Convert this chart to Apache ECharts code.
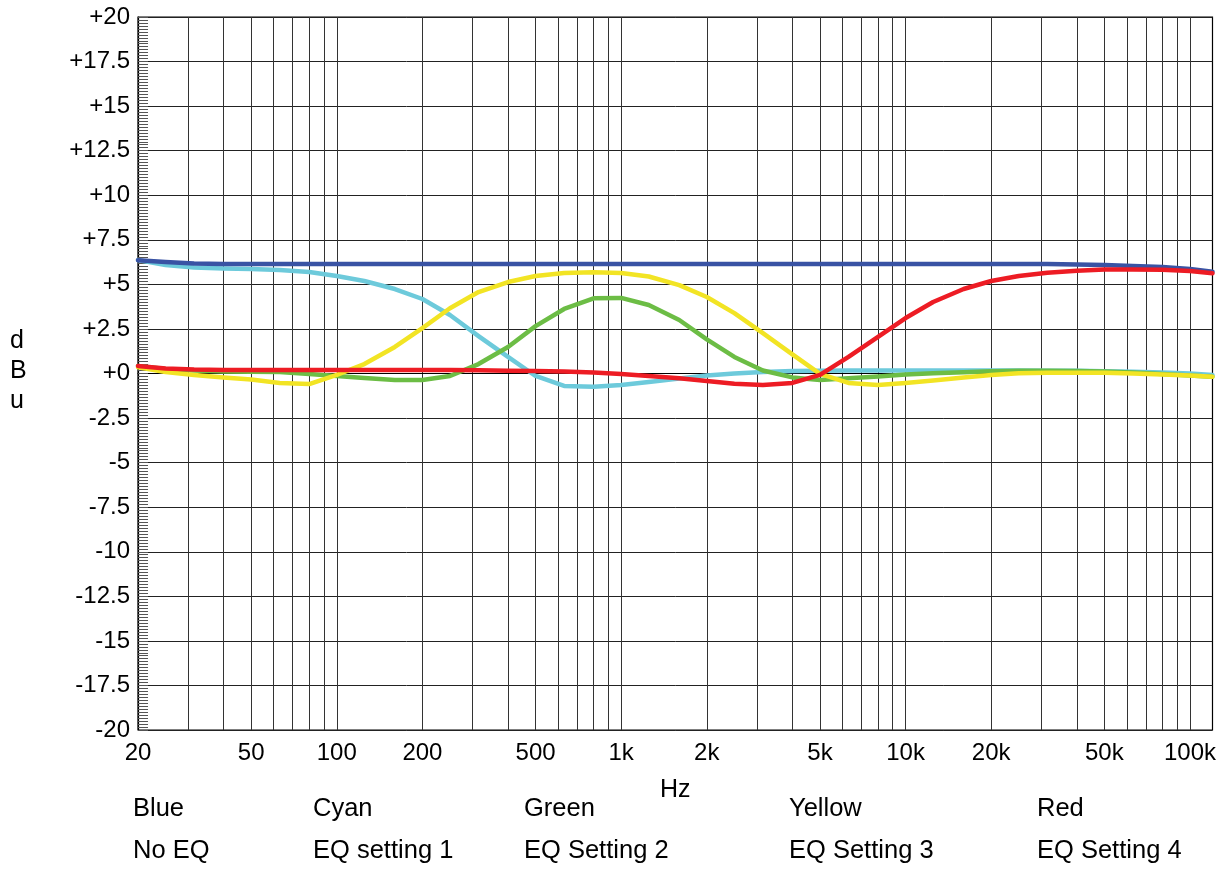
<!DOCTYPE html>
<html>
<head>
<meta charset="utf-8">
<script src="https://cdn.jsdelivr.net/npm/echarts@6/dist/echarts.min.js"></script>
<style>html,body{margin:0;padding:0;background:#fff}#c{width:1219px;height:869px}</style>
</head>
<body>
<div id="c"></div>
<script>
// Frequencies (Hz) of the sample points
const freqs = [20, 25, 31.5, 40, 50, 63, 80, 100, 125, 160, 200, 250, 315, 400, 500, 630, 800, 1000, 1250, 1600, 2000, 2500, 3150, 4000, 5000, 6300, 8000, 10000, 12500, 16000, 20000, 25000, 31500, 40000, 50000, 63000, 80000, 100000, 120000];

// dBu levels per EQ setting
const blueNoEQ = [6.36, 6.25, 6.17, 6.14, 6.14, 6.14, 6.14, 6.14, 6.14, 6.14, 6.14, 6.14, 6.14, 6.14, 6.14, 6.14, 6.14, 6.14, 6.14, 6.14, 6.14, 6.14, 6.14, 6.14, 6.14, 6.14, 6.14, 6.14, 6.14, 6.14, 6.14, 6.14, 6.14, 6.12, 6.09, 6.03, 5.97, 5.86, 5.71];
const cyanEQ1 = [6.36, 6.09, 5.95, 5.89, 5.86, 5.80, 5.69, 5.47, 5.19, 4.74, 4.18, 3.28, 2.10, 0.93, -0.14, -0.70, -0.74, -0.64, -0.48, -0.28, -0.11, 0.0, 0.08, 0.14, 0.16, 0.17, 0.17, 0.17, 0.17, 0.17, 0.17, 0.17, 0.16, 0.15, 0.13, 0.10, 0.05, 0.0, -0.08];
const greenEQ2 = [0.42, 0.25, 0.17, 0.11, 0.10, 0.08, -0.03, -0.14, -0.25, -0.36, -0.36, -0.14, 0.53, 1.49, 2.66, 3.62, 4.22, 4.24, 3.84, 3.00, 1.91, 0.93, 0.17, -0.22, -0.36, -0.27, -0.17, -0.06, 0.01, 0.07, 0.12, 0.15, 0.16, 0.14, 0.11, 0.06, -0.03, -0.11, -0.18];
const yellowEQ3 = [0.35, 0.08, -0.08, -0.22, -0.34, -0.53, -0.59, -0.08, 0.53, 1.49, 2.55, 3.66, 4.57, 5.13, 5.47, 5.64, 5.68, 5.64, 5.44, 4.96, 4.29, 3.39, 2.27, 1.07, -0.02, -0.53, -0.65, -0.53, -0.39, -0.22, -0.08, 0.01, 0.04, 0.04, 0.04, 0.0, -0.06, -0.11, -0.18];
const redEQ4 = [0.42, 0.28, 0.22, 0.20, 0.20, 0.20, 0.20, 0.20, 0.20, 0.20, 0.20, 0.19, 0.18, 0.16, 0.14, 0.11, 0.06, -0.03, -0.14, -0.27, -0.42, -0.58, -0.65, -0.53, -0.08, 0.93, 2.05, 3.11, 4.01, 4.74, 5.19, 5.47, 5.65, 5.77, 5.83, 5.84, 5.82, 5.75, 5.62];

// Axis ticks
const xGridFreqs = [20, 30, 40, 50, 60, 70, 80, 90, 100, 200, 300, 400, 500, 600, 700, 800, 900, 1000, 2000, 3000, 4000, 5000, 6000, 7000, 8000, 9000, 10000, 20000, 30000, 40000, 50000, 60000, 70000, 80000, 90000, 100000];
const xLabelFreqs = [20, 50, 100, 200, 500, 1000, 2000, 5000, 10000, 20000, 50000, 100000];

// Legend text
const legendColours = ['Blue', 'Cyan', 'Green', 'Yellow', 'Red'];
const legendNames = ['No EQ', 'EQ setting 1', 'EQ Setting 2', 'EQ Setting 3', 'EQ Setting 4'];

const FONT = '"Liberation Sans", Arial, Helvetica, sans-serif';
const pairs = vals => freqs.map((f, i) => [f, vals[i]]);

const seriesDefs = [
  { name: legendNames[1], data: cyanEQ1, color: '#6dcadb' },
  { name: legendNames[0], data: blueNoEQ, color: '#3953a4' },
  { name: legendNames[2], data: greenEQ2, color: '#6cbd45' },
  { name: legendNames[3], data: yellowEQ3, color: '#f2e424' },
  { name: legendNames[4], data: redEQ4, color: '#ed1c24' }
];

const legendX = [133, 313, 524, 789, 1037];
const graphics = [];
legendColours.forEach((t, i) => {
  graphics.push({ type: 'text', left: legendX[i], top: 796, style: { text: t, font: '25.5px ' + FONT, fill: '#000' } });
  graphics.push({ type: 'text', left: legendX[i], top: 838, style: { text: legendNames[i], font: '25.5px ' + FONT, fill: '#000' } });
});
graphics.push({ type: 'text', left: 660, top: 778, style: { text: 'Hz', font: '25px ' + FONT, fill: '#000' } });
['d', 'B', 'u'].forEach((ch, i) => {
  graphics.push({ type: 'text', left: 10, top: 329 + i * 30, style: { text: ch, font: '25px ' + FONT, fill: '#000' } });
});

const chart = echarts.init(document.getElementById('c'), null, { renderer: 'canvas' });
chart.setOption({
  backgroundColor: '#fff',
  animation: false,
  grid: { left: 138, right: 6, top: 17, bottom: 139, show: true, borderColor: '#000', borderWidth: 1.2, backgroundColor: 'transparent' },
  xAxis: {
    type: 'log', logBase: 10, min: 20, max: 120000,
    axisLine: { show: true, lineStyle: { color: '#000', width: 1.2 } },
    axisTick: { show: false, customValues: xGridFreqs },
    splitLine: { show: true, lineStyle: { color: '#333', width: 1 } },
    axisLabel: {
      customValues: xLabelFreqs, margin: 11, color: '#000', fontSize: 24, fontFamily: FONT,
      formatter: v => v >= 1000 ? (v / 1000) + 'k' : String(v)
    }
  },
  yAxis: {
    type: 'value', min: -20, max: 20, interval: 2.5,
    axisLine: { show: true, lineStyle: { color: '#000', width: 1.2 } },
    axisTick: { show: true, inside: true, length: 10, lineStyle: { color: '#555' } },
    minorTick: { show: true, splitNumber: 15, length: 10, lineStyle: { color: '#555', width: 1 } },
    splitLine: { show: true, lineStyle: { color: '#222', width: 1 } },
    axisLabel: {
      margin: 8, color: '#000', fontSize: 24, fontFamily: FONT,
      formatter: v => v >= 0 ? '+' + v : String(v)
    }
  },
  graphic: graphics,
  series: seriesDefs.map(s => ({
    name: s.name, type: 'line', data: pairs(s.data), showSymbol: false, symbol: 'none',
    smooth: false, lineStyle: { color: s.color, width: 4.5, cap: 'round', join: 'round' },
    itemStyle: { color: s.color }, silent: true
  }))
});
</script>
</body>
</html>
